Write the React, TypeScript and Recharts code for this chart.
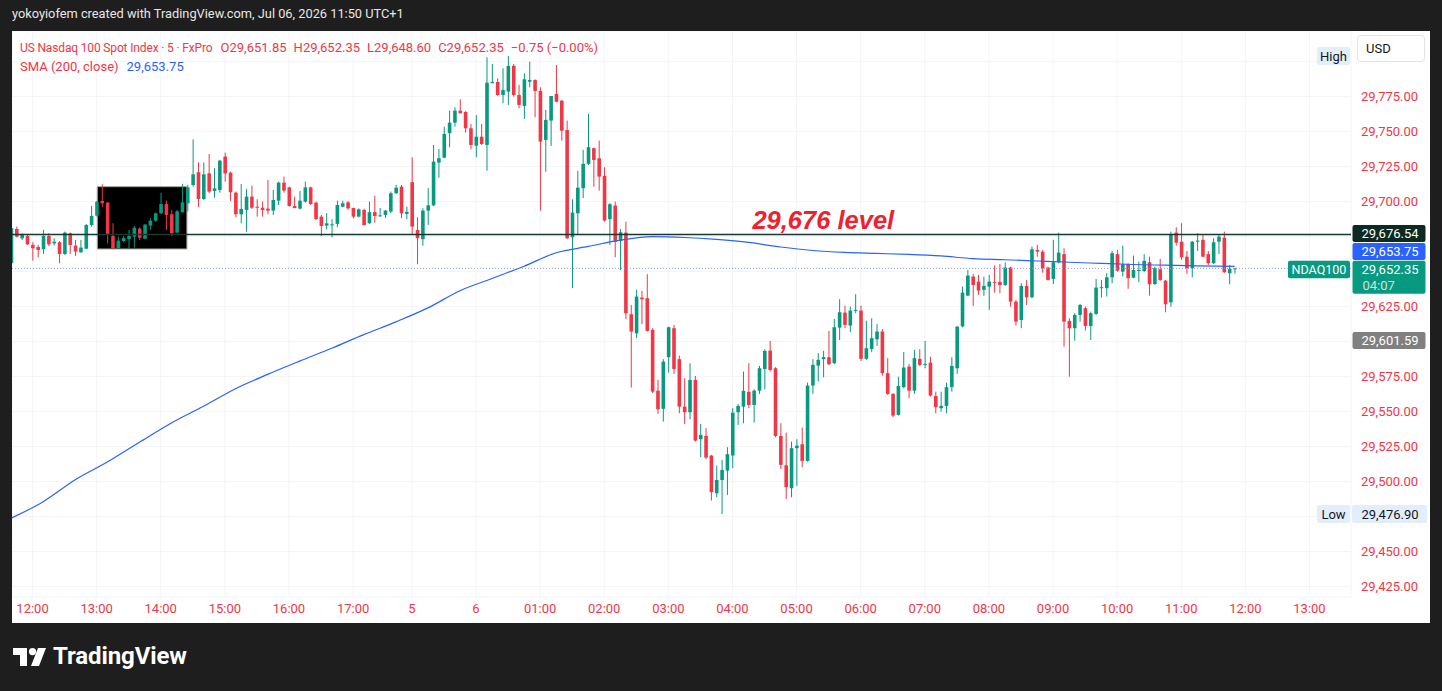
import React from "react";
import {
  ComposedChart,
  Bar,
  Line,
  XAxis,
  YAxis,
  CartesianGrid,
  ReferenceLine,
  ReferenceArea,
  ReferenceDot,
} from "recharts";

// ---------------- DATA ----------------
const opens = [
  29656.0, 29680.5, 29673.8, 29675.5, 29669.1, 29667.6, 29666.0, 29675.5, 29670.2, 29671.0,
  29662.6, 29677.4, 29668.6, 29663.8, 29666.4, 29683.3, 29690.0, 29700.5, 29699.3, 29675.5,
  29666.9, 29671.9, 29673.3, 29675.0, 29680.7, 29673.6, 29682.9, 29686.4, 29691.7, 29698.3,
  29691.0, 29677.9, 29692.4, 29698.8, 29711.9, 29721.0, 29701.9, 29720.2, 29707.6, 29708.3,
  29732.2, 29720.7, 29706.4, 29691.0, 29694.1, 29703.6, 29696.4, 29695.7, 29695.0, 29693.6,
  29700.7, 29713.6, 29710.2, 29696.9, 29695.0, 29700.0, 29710.2, 29699.3, 29689.3, 29682.9,
  29683.3, 29684.1, 29696.4, 29699.5, 29695.5, 29689.3, 29694.1, 29684.6, 29692.5, 29690.0,
  29690.5, 29692.9, 29706.0, 29710.7, 29691.2, 29713.9, 29679.8, 29673.2, 29693.6, 29697.4,
  29727.9, 29731.4, 29748.9, 29756.4, 29765.0, 29764.1, 29752.4, 29740.0, 29746.4, 29740.5,
  29784.6, 29785.5, 29776.2, 29778.6, 29797.0, 29776.2, 29768.4, 29785.7, 29786.9, 29779.1,
  29744.1, 29757.9, 29777.0, 29772.1, 29751.2, 29674.6, 29691.7, 29709.6, 29727.0, 29738.2,
  29731.0, 29718.4, 29687.5, 29697.2, 29671.9, 29677.9, 29619.6, 29606.0, 29631.5, 29631.0,
  29608.4, 29565.0, 29552.0, 29588.9, 29609.6, 29587.5, 29553.6, 29549.6, 29572.7, 29530.3,
  29532.7, 29518.6, 29491.7, 29501.2, 29507.9, 29518.7, 29549.6, 29553.6, 29564.1, 29554.8,
  29565.0, 29580.5, 29593.6, 29581.0, 29532.7, 29511.7, 29495.3, 29523.9, 29526.7, 29514.8,
  29568.6, 29582.9, 29587.5, 29588.9, 29584.6, 29610.0, 29620.7, 29611.5, 29622.0, 29622.2,
  29587.7, 29594.8, 29601.7, 29607.2, 29577.5, 29562.7, 29547.7, 29567.5, 29582.2, 29565.0,
  29587.7, 29583.6, 29585.0, 29561.2, 29552.5, 29554.1, 29567.5, 29581.0, 29610.9, 29632.9,
  29646.5, 29642.9, 29637.0, 29639.3, 29642.7, 29642.7, 29640.5, 29652.9, 29628.6, 29615.5,
  29639.8, 29631.7, 29665.5, 29664.3, 29652.9, 29644.8, 29656.7, 29662.5, 29614.8, 29609.6,
  29619.1, 29623.9, 29611.2, 29619.8, 29638.2, 29638.2, 29646.0, 29662.5, 29650.0, 29655.3,
  29645.7, 29650.7, 29650.5, 29656.7, 29641.2, 29651.7, 29643.6, 29628.1, 29677.9, 29671.4,
  29660.7, 29652.5, 29671.4, 29672.7, 29662.5, 29656.0, 29671.4, 29674.3, 29648.9, 29651.85,
];

const highs = [
  29682.6, 29682.2, 29677.4, 29676.7, 29671.0, 29669.1, 29679.8, 29677.4, 29673.8, 29671.9,
  29678.6, 29677.9, 29672.6, 29672.6, 29684.1, 29696.9, 29700.5, 29712.4, 29699.8, 29684.5,
  29675.0, 29675.5, 29679.8, 29682.6, 29681.7, 29684.1, 29688.1, 29692.2, 29706.4, 29700.7,
  29694.1, 29694.1, 29712.6, 29711.9, 29744.5, 29728.1, 29728.1, 29734.1, 29723.8, 29729.8,
  29735.0, 29721.4, 29707.2, 29712.6, 29709.1, 29711.4, 29701.7, 29700.0, 29715.5, 29708.3,
  29714.3, 29717.9, 29710.7, 29703.6, 29707.6, 29714.3, 29710.7, 29700.0, 29690.5, 29691.7,
  29687.4, 29700.7, 29700.7, 29700.5, 29695.7, 29695.2, 29695.0, 29700.0, 29704.3, 29695.5,
  29694.1, 29707.2, 29712.0, 29712.0, 29696.5, 29731.7, 29688.9, 29695.3, 29709.6, 29740.5,
  29737.6, 29753.6, 29765.0, 29767.4, 29773.1, 29764.6, 29755.5, 29761.9, 29755.5, 29803.1,
  29798.4, 29788.1, 29795.3, 29804.1, 29798.4, 29783.4, 29791.7, 29800.0, 29787.4, 29781.7,
  29765.5, 29775.5, 29797.6, 29772.6, 29757.9, 29701.7, 29722.0, 29737.0, 29762.7, 29738.6,
  29743.6, 29724.6, 29698.9, 29700.0, 29680.5, 29685.7, 29626.2, 29637.0, 29636.2, 29648.2,
  29609.6, 29572.7, 29587.5, 29610.7, 29612.0, 29590.0, 29573.9, 29584.6, 29575.5, 29541.2,
  29538.2, 29519.1, 29511.5, 29515.5, 29524.6, 29552.5, 29555.5, 29578.6, 29584.6, 29566.0,
  29582.7, 29594.6, 29600.5, 29581.7, 29541.7, 29535.0, 29528.6, 29530.3, 29538.6, 29570.7,
  29587.5, 29591.7, 29593.4, 29607.7, 29616.2, 29630.3, 29625.7, 29625.0, 29633.9, 29625.7,
  29615.0, 29616.7, 29612.5, 29608.9, 29588.2, 29563.2, 29575.0, 29592.5, 29584.1, 29594.1,
  29594.6, 29600.5, 29589.3, 29564.3, 29564.3, 29570.7, 29588.9, 29611.2, 29639.3, 29651.2,
  29648.4, 29647.7, 29646.5, 29647.7, 29654.3, 29655.5, 29656.5, 29653.6, 29629.8, 29641.7,
  29644.1, 29667.9, 29669.1, 29665.5, 29653.6, 29672.7, 29677.9, 29666.7, 29616.7, 29620.3,
  29627.0, 29625.0, 29621.5, 29644.8, 29644.1, 29648.9, 29664.8, 29665.5, 29668.6, 29656.0,
  29661.5, 29657.2, 29662.5, 29660.7, 29653.6, 29659.1, 29644.1, 29678.6, 29681.7, 29684.6,
  29664.8, 29671.9, 29677.4, 29676.7, 29664.8, 29673.9, 29676.2, 29678.6, 29654.8, 29652.35,
];

const lows = [
  29654.8, 29674.5, 29672.6, 29669.1, 29657.9, 29660.2, 29662.6, 29668.3, 29668.6, 29656.0,
  29661.9, 29662.6, 29661.2, 29663.6, 29666.2, 29682.2, 29689.3, 29696.0, 29670.2, 29666.0,
  29666.4, 29671.0, 29666.7, 29667.2, 29672.6, 29673.1, 29679.8, 29685.7, 29691.2, 29679.8,
  29675.5, 29677.4, 29692.2, 29692.9, 29710.7, 29696.0, 29701.2, 29706.0, 29702.9, 29706.4,
  29714.3, 29700.5, 29688.8, 29684.5, 29678.6, 29694.8, 29689.3, 29689.3, 29691.0, 29690.5,
  29697.6, 29706.4, 29696.4, 29695.2, 29694.5, 29699.3, 29697.6, 29686.9, 29675.5, 29680.2,
  29674.5, 29681.7, 29696.0, 29694.1, 29688.1, 29688.8, 29682.9, 29684.1, 29685.0, 29689.3,
  29688.4, 29691.7, 29705.5, 29688.2, 29687.4, 29676.2, 29655.3, 29668.6, 29683.4, 29696.9,
  29717.1, 29731.0, 29738.8, 29753.6, 29763.1, 29749.3, 29737.4, 29731.7, 29740.5, 29722.1,
  29784.6, 29775.7, 29770.3, 29769.1, 29775.0, 29766.7, 29759.1, 29781.7, 29760.3, 29693.6,
  29721.4, 29739.8, 29771.0, 29743.6, 29673.2, 29638.2, 29676.2, 29702.5, 29726.2, 29710.7,
  29707.9, 29685.7, 29669.1, 29660.3, 29651.2, 29616.0, 29567.2, 29602.5, 29612.5, 29607.2,
  29563.2, 29548.4, 29542.9, 29577.9, 29577.0, 29548.9, 29541.2, 29544.6, 29528.6, 29517.5,
  29516.2, 29486.5, 29488.9, 29476.9, 29490.5, 29509.6, 29540.5, 29541.7, 29552.5, 29542.2,
  29562.7, 29566.0, 29578.6, 29531.7, 29508.9, 29487.5, 29488.9, 29497.0, 29510.3, 29514.3,
  29562.7, 29571.5, 29574.6, 29583.2, 29584.1, 29601.2, 29609.6, 29606.7, 29620.3, 29586.2,
  29587.0, 29592.5, 29597.0, 29575.7, 29562.0, 29546.0, 29547.2, 29566.7, 29559.6, 29562.7,
  29582.7, 29581.0, 29560.7, 29548.9, 29550.0, 29548.9, 29564.3, 29577.0, 29610.3, 29632.7,
  29625.5, 29633.4, 29632.7, 29622.7, 29635.0, 29634.6, 29639.8, 29625.0, 29611.5, 29609.6,
  29626.2, 29631.0, 29660.7, 29649.3, 29643.6, 29641.2, 29656.0, 29596.5, 29575.0, 29600.7,
  29614.3, 29607.9, 29601.2, 29619.1, 29631.5, 29632.2, 29641.7, 29650.0, 29646.5, 29637.7,
  29645.3, 29642.4, 29649.6, 29632.9, 29640.5, 29643.4, 29621.0, 29625.0, 29668.6, 29658.4,
  29648.4, 29646.0, 29664.8, 29660.3, 29654.8, 29655.5, 29662.5, 29648.9, 29641.0, 29648.6,
];

const closes = [
  29681.0, 29675.0, 29676.2, 29669.5, 29666.7, 29665.5, 29675.5, 29669.5, 29671.4, 29662.6,
  29677.9, 29669.1, 29664.3, 29667.2, 29683.3, 29689.8, 29700.0, 29698.8, 29676.9, 29666.7,
  29672.2, 29674.1, 29675.5, 29681.4, 29674.3, 29683.6, 29686.4, 29691.7, 29698.3, 29690.5,
  29677.4, 29693.1, 29699.5, 29710.2, 29719.5, 29701.9, 29719.5, 29707.2, 29709.5, 29729.3,
  29720.2, 29706.7, 29691.0, 29694.8, 29703.6, 29695.7, 29695.7, 29694.1, 29693.6, 29701.2,
  29713.6, 29707.9, 29696.9, 29695.5, 29700.7, 29710.2, 29698.3, 29687.6, 29682.6, 29684.5,
  29683.8, 29697.6, 29698.8, 29695.2, 29689.3, 29694.5, 29683.3, 29692.5, 29689.8, 29690.2,
  29693.6, 29706.0, 29710.0, 29691.7, 29692.7, 29682.2, 29673.9, 29693.6, 29697.4, 29728.6,
  29731.0, 29748.4, 29756.4, 29765.0, 29763.1, 29752.4, 29740.5, 29746.4, 29741.2, 29785.0,
  29785.5, 29776.2, 29779.8, 29797.0, 29776.2, 29769.1, 29787.4, 29786.9, 29779.1, 29742.9,
  29758.4, 29775.5, 29771.4, 29750.7, 29673.9, 29692.2, 29710.0, 29727.0, 29738.9, 29729.8,
  29717.9, 29686.5, 29698.2, 29671.4, 29678.1, 29620.3, 29607.2, 29632.2, 29630.3, 29607.7,
  29564.3, 29551.7, 29585.7, 29610.3, 29580.5, 29553.6, 29549.6, 29572.7, 29529.3, 29533.4,
  29517.2, 29492.5, 29501.2, 29508.4, 29519.6, 29549.3, 29554.1, 29564.8, 29554.8, 29565.0,
  29581.0, 29593.4, 29579.8, 29532.7, 29512.0, 29496.0, 29523.9, 29525.7, 29514.8, 29568.6,
  29583.4, 29587.0, 29588.9, 29583.9, 29610.3, 29621.0, 29612.0, 29622.2, 29622.7, 29587.7,
  29595.3, 29602.5, 29607.2, 29577.5, 29562.7, 29547.2, 29568.4, 29581.5, 29565.0, 29588.2,
  29583.4, 29584.1, 29561.5, 29553.2, 29554.1, 29567.5, 29582.7, 29610.7, 29635.0, 29647.2,
  29640.5, 29636.5, 29639.8, 29642.9, 29642.0, 29640.5, 29652.9, 29628.6, 29614.3, 29639.8,
  29631.7, 29666.0, 29664.3, 29652.5, 29644.1, 29656.7, 29663.6, 29614.3, 29609.6, 29619.1,
  29626.2, 29611.2, 29620.3, 29638.6, 29638.9, 29646.0, 29663.2, 29650.7, 29655.3, 29645.3,
  29651.2, 29651.2, 29657.7, 29641.0, 29652.5, 29644.1, 29626.7, 29676.9, 29670.7, 29660.3,
  29652.5, 29671.4, 29672.2, 29660.7, 29656.0, 29671.0, 29675.0, 29649.6, 29651.9, 29652.35,
];

// SMA(200, close) read at every 6th bar (and the last bar)
const smaIndex = [
  0, 6, 12, 18, 24, 30, 36, 42, 48, 54, 60, 66, 72, 78, 84, 90, 96, 102, 108, 114,
  120, 126, 132, 138, 144, 150, 156, 162, 168, 174, 180, 186, 192, 198, 204, 210, 216, 222, 229,
];
const smaValues = [
  29473.9, 29485.7, 29501.4, 29514.0, 29528.1, 29541.9, 29553.8, 29566.4, 29576.6, 29586.1,
  29595.3, 29605.0, 29614.1, 29624.1, 29636.4, 29645.1, 29653.9, 29663.5, 29668.0, 29672.5,
  29675.0, 29674.4, 29673.0, 29670.9, 29667.6, 29665.1, 29663.7, 29663.0, 29662.3, 29661.2,
  29659.3, 29658.5, 29657.6, 29656.7, 29655.9, 29655.1, 29654.6, 29654.1, 29653.75,
];

const timeTickIndex = [4, 16, 28, 40, 52, 64, 75, 87, 99, 111, 123, 135, 147, 159, 171, 183, 195, 207, 219, 231, 243];
const timeTickLabels = [
  "12:00", "13:00", "14:00", "15:00", "16:00", "17:00", "5", "6", "01:00", "02:00", "03:00",
  "04:00", "05:00", "06:00", "07:00", "08:00", "09:00", "10:00", "11:00", "12:00", "13:00",
];
const priceTicks = [
  29425, 29450, 29475, 29500, 29525, 29550, 29575, 29600, 29625, 29650, 29675, 29700, 29725, 29750, 29775, 29800,
];
// price labels that TradingView hides behind its badges
const hiddenPriceLabels = [29475, 29600, 29650, 29675, 29800];

const levelPrice = 29676.54;
const lastClose = 29652.35;
const smaLast = 29653.75;
const otherLevel = 29601.59;
const highPrice = 29804.1;
const lowPrice = 29476.9;
const boxIdx = [16.13, 32.9];
const boxPrices = [29666.2, 29710.7];
const levelTextPoint = { i: 152, price: 29687 };

// ---------------- STYLE ----------------
const GREEN = "#089981";
const RED = "#f23645";
const BLUE = "#2962ff";
const FONT = "Roboto, 'Liberation Sans', Arial, sans-serif";
const X_DOMAIN: [number, number] = [0.16, 250.77];
const Y_DOMAIN: [number, number] = [29417.6, 29821.9];

const data = opens.map((o, i) => ({
  i,
  o,
  h: highs[i],
  l: lows[i],
  c: closes[i],
  range: [lows[i], highs[i]],
  sma: undefined as number | undefined,
}));
smaIndex.forEach((idx, k) => {
  data[idx].sma = smaValues[k];
});

const fmtPrice = (v: number) =>
  v.toLocaleString("en-US", { minimumFractionDigits: 2, maximumFractionDigits: 2 });

const Candle = (props: any) => {
  const { x, y, width, height, payload } = props;
  if (x == null || y == null || !payload) return null;
  const { o, h, l, c } = payload;
  const cx = x + width / 2;
  const span = h - l;
  const ratio = span > 0 ? height / span : 0;
  const yO = y + (h - o) * ratio;
  const yC = y + (h - c) * ratio;
  const color = c >= o ? GREEN : RED;
  const top = Math.min(yO, yC);
  const bh = Math.max(1, Math.abs(yC - yO));
  return (
    <g>
      <line x1={cx} x2={cx} y1={y} y2={y + Math.max(height, 1)} stroke={color} strokeWidth={1} />
      <rect x={cx - 1.8} y={top} width={3.6} height={bh} fill={color} />
    </g>
  );
};

const PriceTick = (props: any) => {
  const { x, y, payload } = props;
  if (!payload || hiddenPriceLabels.includes(payload.value)) return null;
  return (
    <text x={x} y={y} dy="0.36em" textAnchor="start" fontSize={13} fontFamily={FONT} fill={RED}>
      {fmtPrice(payload.value)}
    </text>
  );
};

const AxisBadge = (props: any) => {
  const { viewBox, text, sub, bg, fg, dy = 0, h = 17, subColor } = props;
  if (!viewBox) return null;
  const x = viewBox.x + viewBox.width + 1.5;
  const yc = viewBox.y + dy;
  const w = 73;
  const totalH = sub ? h + 16 : h;
  return (
    <g>
      <rect x={x} y={yc - h / 2} width={w} height={totalH} rx={2} fill={bg} />
      <text
        x={x + w / 2 + 1}
        y={yc + 0.5}
        textAnchor="middle"
        dominantBaseline="central"
        fontSize={13}
        fontFamily={FONT}
        fill={fg}
      >
        {text}
      </text>
      {sub ? (
        <text
          x={x + 10}
          y={yc + 16.5}
          textAnchor="start"
          dominantBaseline="central"
          fontSize={13}
          fontFamily={FONT}
          fill={subColor || fg}
        >
          {sub}
        </text>
      ) : null}
    </g>
  );
};

const LastPriceBadge = (props: any) => {
  const { viewBox } = props;
  if (!viewBox) return null;
  const right = viewBox.x + viewBox.width;
  const yc = viewBox.y + 1;
  return (
    <g>
      <rect x={right - 63} y={yc - 8.5} width={62} height={17.5} rx={2} fill={GREEN} />
      <text x={right - 32} y={yc + 0.5} textAnchor="middle" dominantBaseline="central" fontSize={12.5} fontFamily={FONT} fill="#ffffff">
        NDAQ100
      </text>
      <AxisBadge viewBox={{ ...viewBox, y: viewBox.y }} text={fmtPrice(lastClose)} sub="04:07" bg={GREEN} fg="#ffffff" subColor="rgba(255,255,255,0.78)" dy={1} />
    </g>
  );
};

const HighLowBadge = (props: any) => {
  const { viewBox, tag, value } = props;
  if (!viewBox) return null;
  const right = viewBox.x + viewBox.width;
  const yc = viewBox.y;
  return (
    <g>
      <rect x={right - 34} y={yc - 9} width={33} height={18} rx={2} fill="#e3eefc" />
      <text x={right - 17.5} y={yc + 0.5} textAnchor="middle" dominantBaseline="central" fontSize={13} fontFamily={FONT} fill="#131722">
        {tag}
      </text>
      {value ? (
        <>
          <rect x={right + 1} y={yc - 9} width={75} height={18} rx={2} fill="#e3eefc" />
          <text x={right + 39} y={yc + 0.5} textAnchor="middle" dominantBaseline="central" fontSize={13} fontFamily={FONT} fill="#131722">
            {value}
          </text>
        </>
      ) : null}
    </g>
  );
};

const LevelText = (props: any) => {
  const { viewBox } = props;
  if (!viewBox) return null;
  const cx = viewBox.x + viewBox.width / 2;
  const cy = viewBox.y + viewBox.height / 2;
  return (
    <text
      x={cx}
      y={cy}
      textAnchor="middle"
      dominantBaseline="central"
      fontSize={25.5}
      fontWeight="bold"
      fontStyle="italic"
      fontFamily="'Liberation Sans', Arial, sans-serif"
      fill="#f0202e"
    >
      29,676 level
    </text>
  );
};

const TVLogo = () => (
  <svg width={36} height={20} viewBox="0 0 36 20" style={{ position: "absolute", left: 13, top: 648 }}>
    <path d="M0 0 H14 V18 H7 V7 H0 Z" fill="#ffffff" />
    <circle cx={19.5} cy={3.6} r={3.6} fill="#ffffff" />
    <path d="M25 0 H33 L26 18 H18 Z" fill="#ffffff" />
  </svg>
);

export default function App() {
  return (
    <div
      style={{
        position: "fixed",
        left: 0,
        top: 0,
        width: 1442,
        height: 691,
        background: "#1e1e1e",
        overflow: "hidden",
        fontFamily: FONT,
      }}
    >
      <style>{"body{margin:0;}"}</style>
      <div style={{ position: "absolute", left: 12, top: 6, fontSize: 12.8, color: "#e6e6e6", whiteSpace: "nowrap" }}>
        yokoyiofem created with TradingView.com, Jul 06, 2026 11:50 UTC+1
      </div>

      <div style={{ position: "absolute", left: 12, top: 31, width: 1418, height: 592, background: "#ffffff" }}>
        <ComposedChart width={1418} height={592} data={data} margin={{ top: 0, right: 0, bottom: 0, left: 0 }}>
          <CartesianGrid stroke="#f2f4f8" strokeWidth={1} />
          <XAxis
            dataKey="i"
            type="number"
            domain={X_DOMAIN}
            allowDataOverflow
            ticks={timeTickIndex}
            interval={0}
            tickFormatter={(v: number) => timeTickLabels[timeTickIndex.indexOf(v)] ?? ""}
            tick={{ fill: RED, fontSize: 13, fontFamily: FONT }}
            axisLine={false}
            tickLine={false}
            tickSize={0}
            tickMargin={7}
            height={26}
          />
          <YAxis
            orientation="right"
            type="number"
            domain={Y_DOMAIN}
            allowDataOverflow
            ticks={priceTicks}
            interval={0}
            width={79}
            tick={<PriceTick />}
            axisLine={false}
            tickLine={false}
            tickSize={0}
            tickMargin={10}
          />
          <ReferenceArea
            x1={boxIdx[0]}
            x2={boxIdx[1]}
            y1={boxPrices[0]}
            y2={boxPrices[1]}
            fill="#000000"
            fillOpacity={1}
            stroke="#a8a294"
            strokeWidth={1}
          />
          <Bar dataKey="range" barSize={4} shape={<Candle />} isAnimationActive={false} />
          <Line
            dataKey="sma"
            type="monotone"
            stroke={BLUE}
            strokeWidth={1.2}
            dot={false}
            activeDot={false}
            connectNulls
            isAnimationActive={false}
          />
          <ReferenceLine
            y={lastClose}
            stroke="#8e9bd6"
            strokeDasharray="1 2"
            strokeWidth={1}
            label={<LastPriceBadge />}
          />
          <ReferenceLine
            y={levelPrice}
            stroke="#17372f"
            strokeWidth={1.5}
            label={<AxisBadge text={fmtPrice(levelPrice)} bg="#0d2a22" fg="#ffffff" dy={-1} />}
          />
          <ReferenceLine
            y={smaLast}
            stroke="none"
            label={<AxisBadge text={fmtPrice(smaLast)} bg={BLUE} fg="#ffffff" dy={-15} />}
          />
          <ReferenceLine
            y={otherLevel}
            stroke="none"
            label={<AxisBadge text={fmtPrice(otherLevel)} bg="#808080" fg="#ffffff" dy={1} />}
          />
          <ReferenceLine y={lowPrice} stroke="none" label={<HighLowBadge tag="Low" value={fmtPrice(lowPrice)} />} />
          <ReferenceLine y={highPrice} stroke="none" label={<HighLowBadge tag="High" />} />
          <ReferenceDot
            x={levelTextPoint.i}
            y={levelTextPoint.price}
            r={1}
            fill="none"
            stroke="none"
            label={<LevelText />}
          />
        </ComposedChart>

        <div
          style={{
            position: "absolute",
            left: 8,
            top: 8,
            fontSize: 13,
            color: RED,
            whiteSpace: "nowrap",
            lineHeight: "18px",
          }}
        >
          <div>
            <span style={{ fontSize: 12, letterSpacing: -0.15 }}>US Nasdaq 100 Spot Index · 5 · FxPro</span>
            <span style={{ marginLeft: 8 }}>O29,651.85</span>
            <span style={{ marginLeft: 7 }}>H29,652.35</span>
            <span style={{ marginLeft: 7 }}>L29,648.60</span>
            <span style={{ marginLeft: 7 }}>C29,652.35</span>
            <span style={{ marginLeft: 7 }}>−0.75 (−0.00%)</span>
          </div>
          <div style={{ marginTop: 1 }}>
            <span>SMA (200, close)</span>
            <span style={{ marginLeft: 8, color: BLUE }}>29,653.75</span>
          </div>
        </div>

        <div
          style={{
            position: "absolute",
            left: 1345,
            top: 4,
            width: 68,
            height: 27,
            border: "1px solid #e0e3eb",
            borderRadius: 4,
            background: "#ffffff",
            fontSize: 13,
            color: "#131722",
            lineHeight: "26px",
            paddingLeft: 8,
            boxSizing: "border-box",
          }}
        >
          USD
        </div>
      </div>

      <TVLogo />
      <div
        style={{
          position: "absolute",
          left: 53,
          top: 642,
          fontSize: 24,
          fontWeight: 700,
          color: "#ffffff",
          letterSpacing: -0.1,
          whiteSpace: "nowrap",
        }}
      >
        TradingView
      </div>
    </div>
  );
}
